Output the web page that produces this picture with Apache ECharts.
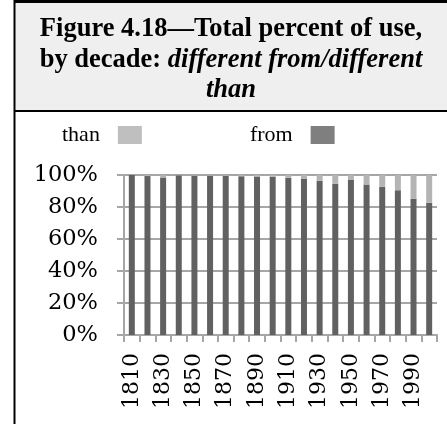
<!DOCTYPE html>
<html>
<head>
<meta charset="utf-8">
<script src="https://cdn.jsdelivr.net/npm/echarts@6/dist/echarts.min.js"></script>
<style>
  html, body { margin: 0; padding: 0; background: #fff; }
  #chart { width: 447px; height: 424px; }
</style>
</head>
<body>
<div id="chart"></div>
<script>
// Decades on the category axis
const decades = ['1810', '1820', '1830', '1840', '1850', '1860', '1870', '1880', '1890', '1900',
                 '1910', '1920', '1930', '1940', '1950', '1960', '1970', '1980', '1990', '2000'];
// Share of "different from" per decade (%)
const fromShare = [100, 99.3, 98.5, 99.8, 99.6, 99.6, 99.5, 99.2, 99.0, 98.9,
                   98.2, 97.5, 96.4, 94.5, 96.9, 94.0, 92.6, 90.5, 85.1, 82.7];
// Share of "different than" per decade (%)
const thanShare = [0, 0.7, 1.5, 0.2, 0.4, 0.4, 0.5, 0.8, 1.0, 1.1,
                   1.8, 2.5, 3.6, 5.5, 3.1, 6.0, 7.4, 9.5, 14.9, 17.3];
// Value-axis range and step (%)
const yMin = 0, yMax = 100, yStep = 20;

const gridGray = '#a6a6a6';
const fromColor = '#616161';
const thanColor = '#b4b4b4';

const chart = echarts.init(document.getElementById('chart'));
chart.setOption({
  animation: false,
  backgroundColor: '#ffffff',
  graphic: [
    { type: 'rect', z: -10, shape: { x: 15, y: 2, width: 432, height: 109 }, style: { fill: '#efefef' } },
    { type: 'line', shape: { x1: 15, y1: 1.5, x2: 447, y2: 1.5 }, style: { stroke: '#000', lineWidth: 3 } },
    { type: 'line', shape: { x1: 14.5, y1: 0, x2: 14.5, y2: 424 }, style: { stroke: '#000', lineWidth: 2 } },
    { type: 'line', shape: { x1: 15, y1: 111, x2: 447, y2: 111 }, style: { stroke: '#000', lineWidth: 2 } }
  ],
  title: {
    left: 231,
    top: 14,
    padding: 0,
    textAlign: 'center',
    text: '{b|Figure 4.18\u2014Total percent of use,}\n{b|by decade: }{i|different from/different}\n{i|than}',
    textStyle: {
      fontFamily: 'Liberation Serif',
      fontSize: 26.5,
      fontWeight: 'bold',
      color: '#000',
      lineHeight: 30.5,
      rich: {
        b: { fontFamily: 'Liberation Serif', fontSize: 26.5, fontWeight: 'bold', color: '#000', lineHeight: 30.5 },
        i: { fontFamily: 'Liberation Serif', fontSize: 26.5, fontWeight: 'bold', fontStyle: 'italic', color: '#000', lineHeight: 30.5 }
      }
    }
  },
  legend: {
    left: 62,
    top: 124,
    padding: 0,
    align: 'right',
    icon: 'rect',
    itemWidth: 24,
    itemHeight: 18,
    itemGap: 108,
    selectedMode: false,
    textStyle: { fontFamily: 'Liberation Serif', fontSize: 22, color: '#000', padding: [0, 13, 0, 0] },
    data: [
      { name: 'than', itemStyle: { color: '#bfbfbf' } },
      { name: 'from', itemStyle: { color: '#7f7f7f' } }
    ]
  },
  grid: { left: 124, right: 10, top: 175, bottom: 89 },
  xAxis: {
    type: 'category',
    data: decades,
    boundaryGap: true,
    axisLine: { show: true, lineStyle: { color: gridGray, width: 2 } },
    axisTick: { show: true, interval: 0, length: 7, lineStyle: { color: gridGray, width: 2 } },
    axisLabel: {
      interval: 1,
      rotate: 90,
      margin: 18,
      fontFamily: 'DejaVu Serif',
      fontSize: 22,
      color: '#000'
    },
    splitLine: { show: false }
  },
  yAxis: {
    type: 'value',
    min: yMin,
    max: yMax,
    interval: yStep,
    axisLine: { show: true, lineStyle: { color: gridGray, width: 2 } },
    axisTick: { show: true, length: 7, lineStyle: { color: gridGray, width: 2 } },
    axisLabel: {
      formatter: '{value}%',
      margin: 26,
      fontFamily: 'DejaVu Serif',
      fontSize: 22.5,
      color: '#000'
    },
    splitLine: { show: true, lineStyle: { color: gridGray, width: 2 } }
  },
  series: [
    {
      name: 'from',
      type: 'bar',
      stack: 'share',
      barWidth: 6,
      itemStyle: { color: fromColor },
      data: fromShare
    },
    {
      name: 'than',
      type: 'bar',
      stack: 'share',
      barWidth: 6,
      itemStyle: { color: thanColor },
      data: thanShare
    }
  ]
});
</script>
</body>
</html>
